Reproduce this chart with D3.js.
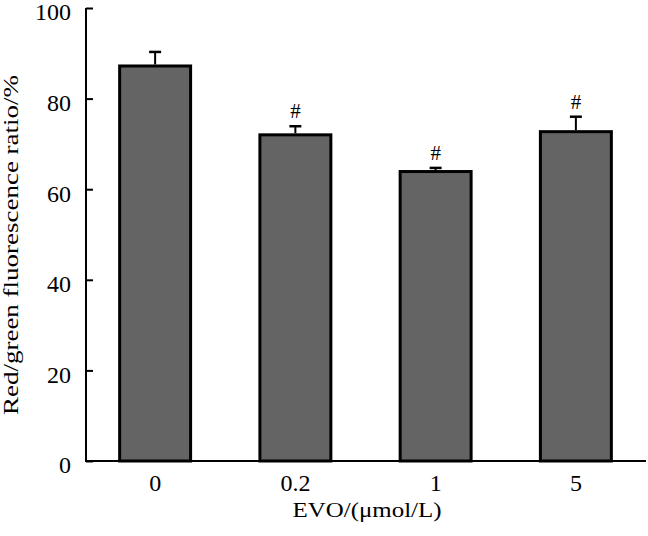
<!DOCTYPE html>
<html lang="en">
<head>
  <meta charset="UTF-8">
  <title>Red/green fluorescence ratio</title>
  <script src="https://d3js.org/d3.v7.min.js"></script>
  <style>
    body { margin: 0; background: #fff; }
    svg text { font-family: "Liberation Serif", "Times New Roman", serif; fill: #000; }
  </style>
</head>
<body>
  <svg id="chart"></svg>

  <script>
    const categories = ["0", "0.2", "1", "5"];
    const means = [87.2, 72.0, 63.9, 72.7];
    const errors = [3.1, 1.9, 0.8, 3.3];
    const marks = ["", "#", "#", "#"];
    const yTicks = [0, 20, 40, 60, 80, 100];

    const width = 648;
    const height = 536;

    const svg = d3.select("#chart")
      .attr("width", width)
      .attr("height", height);

    const x = d3.scaleBand()
      .domain(categories)
      .range([85, 646])
      .padding(0);

    const y = d3.scaleLinear()
      .domain([0, 100])
      .range([461, 8]);

    const barW = x.bandwidth() * 0.506;
    const cx = d => x(d) + x.bandwidth() / 2;

    // bars
    svg.selectAll("rect.bar")
      .data(categories)
      .enter()
      .append("rect")
      .attr("class", "bar")
      .attr("x", d => cx(d) - barW / 2)
      .attr("y", (d, i) => y(means[i]))
      .attr("width", barW)
      .attr("height", (d, i) => y(0) - y(means[i]))
      .attr("fill", "#646464")
      .attr("stroke", "#000")
      .attr("stroke-width", 3);

    // error bars
    const err = svg.selectAll("g.err")
      .data(categories)
      .enter()
      .append("g")
      .attr("class", "err");

    err.append("line")
      .attr("x1", d => cx(d))
      .attr("x2", d => cx(d))
      .attr("y1", (d, i) => y(means[i]) - 1.5)
      .attr("y2", (d, i) => y(means[i] + errors[i]))
      .attr("stroke", "#000")
      .attr("stroke-width", 2);

    err.append("line")
      .attr("x1", d => cx(d) - 6)
      .attr("x2", d => cx(d) + 6)
      .attr("y1", (d, i) => y(means[i] + errors[i]))
      .attr("y2", (d, i) => y(means[i] + errors[i]))
      .attr("stroke", "#000")
      .attr("stroke-width", 2.5);

    err.append("text")
      .attr("x", d => cx(d))
      .attr("y", (d, i) => y(means[i] + errors[i]) - 8)
      .attr("text-anchor", "middle")
      .attr("font-size", 21)
      .text((d, i) => marks[i]);

    // y axis
    const yAxis = svg.append("g")
      .attr("transform", "translate(86,0)")
      .call(d3.axisRight(y).tickValues(yTicks).tickSize(7).tickFormat(""));
    yAxis.select(".domain").attr("d", `M0,${y(100)}H0V${y(0)}`).attr("stroke-width", 2);
    yAxis.selectAll(".tick line").attr("stroke-width", 2);

    svg.selectAll("text.ytick")
      .data(yTicks)
      .enter()
      .append("text")
      .attr("class", "ytick")
      .attr("x", 71)
      .attr("y", d => y(d) + 4)
      .attr("dy", "0.35em")
      .attr("text-anchor", "end")
      .attr("font-size", 24)
      .text(d => d);

    // x axis
    svg.append("line")
      .attr("x1", 85)
      .attr("x2", 646)
      .attr("y1", y(0))
      .attr("y2", y(0))
      .attr("stroke", "#000")
      .attr("stroke-width", 2);

    svg.selectAll("text.xtick")
      .data(categories)
      .enter()
      .append("text")
      .attr("class", "xtick")
      .attr("x", d => cx(d))
      .attr("y", 491)
      .attr("text-anchor", "middle")
      .attr("font-size", 24)
      .text(d => d);

    svg.append("text")
      .attr("x", 367)
      .attr("y", 517)
      .attr("text-anchor", "middle")
      .attr("font-size", 21)
      .attr("textLength", 149)
      .attr("lengthAdjust", "spacingAndGlyphs")
      .text("EVO/(μmol/L)");

    svg.append("text")
      .attr("transform", "translate(18,245) rotate(-90)")
      .attr("text-anchor", "middle")
      .attr("font-size", 20)
      .attr("textLength", 340)
      .attr("lengthAdjust", "spacingAndGlyphs")
      .text("Red/green fluorescence ratio/%");
  </script>
</body>
</html>
